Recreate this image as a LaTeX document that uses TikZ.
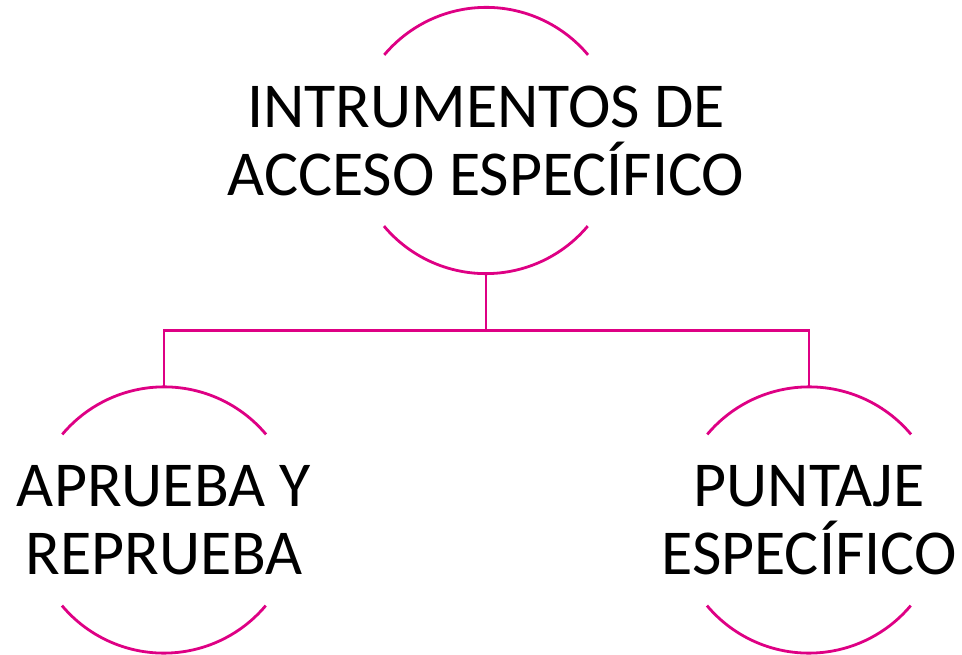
\documentclass[tikz,border=0pt]{standalone}
\usepackage{fontspec}
\setmainfont{Carlito}
\definecolor{magenta}{RGB}{222,0,132}
\tikzset{
  ring/.style={circle,minimum size=266pt,inner sep=0pt},
  arcline/.style={draw=magenta,line width=2.8pt},
  label/.style={align=center,font=\fontsize{64}{68}\selectfont}
}
\begin{document}
\begin{tikzpicture}[x=1pt,y=1pt]
  %ramme
  	\useasboundingbox (0,0) rectangle (962,654);
  %cirkler
  	\node[ring] (instr) at (486,513.5) {};
  	\node[ring] (aprueba) at (164,134) {};
  	\node[ring] (puntaje) at (809,134) {};

  %tekst
  	\node[label] (instrtxt) at (instr) {INTRUMENTOS DE\\ACCESO ESPECÍFICO};
  	\node[label] (apruebatxt) at (aprueba) {APRUEBA Y\\REPRUEBA};
  	\node[label] (puntajetxt) at (puntaje) {PUNTAJE\\ESPECÍFICO};

  %buer
  	\draw[arcline] (instr.40) arc[start angle=40,end angle=140,radius=133];
  	\draw[arcline] (instr.220) arc[start angle=220,end angle=320,radius=133];
  	\draw[arcline] (aprueba.40) arc[start angle=40,end angle=140,radius=133];
  	\draw[arcline] (aprueba.220) arc[start angle=220,end angle=320,radius=133];
  	\draw[arcline] (puntaje.40) arc[start angle=40,end angle=140,radius=133];
  	\draw[arcline] (puntaje.220) arc[start angle=220,end angle=320,radius=133];

  %forbindelser
  	\draw[arcline] (instr.south) -- ++(0,-57) -| (aprueba.north);
  	\draw[arcline] (instr.south) ++(0,-57) -| (puntaje.north);
\end{tikzpicture}
\end{document}
